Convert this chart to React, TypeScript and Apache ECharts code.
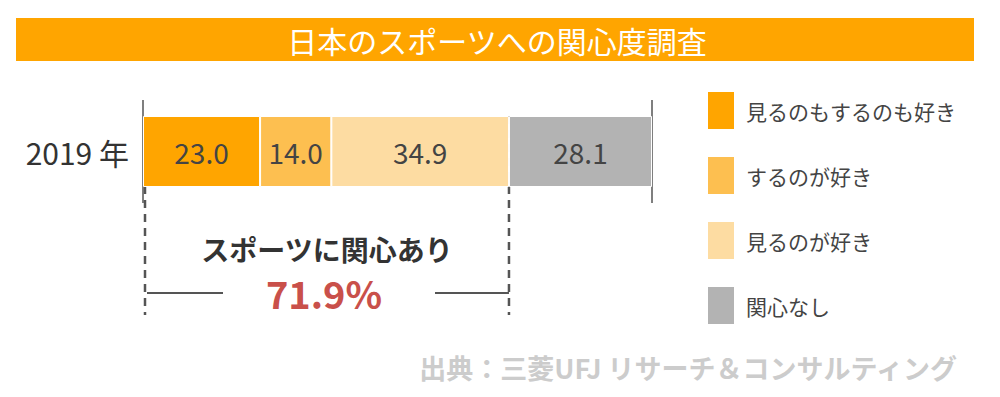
import React, { useEffect, useRef } from "react";
import * as echarts from "echarts";

const categories = ["2019 年"];
const seriesNames = ["見るのもするのも好き", "するのが好き", "見るのが好き", "関心なし"];
const seriesValues = [[23.0], [14.0], [34.9], [28.1]];
const seriesColors = ["#FFA500", "#FDBF50", "#FDDCA2", "#B3B3B3"];
const interestedShare = 71.9;
const titleText = "日本のスポーツへの関心度調査";
const bracketLabel = "スポーツに関心あり";
const sourceText = "出典：三菱UFJ リサーチ＆コンサルティング";

const FONT = "'Noto Sans CJK JP', 'Noto Sans', sans-serif";

export default function App() {
  const ref = useRef<HTMLDivElement>(null);
  useEffect(() => {
    if (!ref.current) return;
    const chart = echarts.init(ref.current, null, { renderer: "svg" });
    const option: any = {
      animation: false,
      backgroundColor: "#ffffff",
      textStyle: { fontFamily: FONT },
      grid: { left: 143, right: 348, top: 100, bottom: 194 },
      xAxis: {
        type: "value",
        min: 0,
        max: 100,
        interval: 100,
        axisLine: { show: false },
        axisTick: { show: false },
        axisLabel: { show: false },
        splitLine: { show: true, lineStyle: { color: "#555555", width: 1.5 } },
      },
      yAxis: {
        type: "category",
        data: categories,
        axisLine: { show: false },
        axisTick: { show: false },
        axisLabel: { fontSize: 30, color: "#333333", margin: 14, fontFamily: FONT },
      },
      legend: {
        orient: "vertical",
        left: 706,
        top: 90,
        padding: 0,
        itemWidth: 28,
        itemHeight: 39,
        itemGap: 24,
        icon: "rect",
        textStyle: { fontSize: 21, color: "#444444", fontFamily: FONT, padding: [0, 0, 0, 6] },
        data: seriesNames,
      },
      series: seriesNames.map((name, i) => ({
        name,
        type: "bar",
        stack: "total",
        barWidth: 71,
        data: seriesValues[i],
        itemStyle: { color: seriesColors[i], borderColor: "#ffffff", borderWidth: 1 },
        label: {
          show: true,
          position: "inside",
          fontSize: 28,
          color: "#444444",
          fontFamily: FONT,
          formatter: (p: any) => Number(p.value).toFixed(1),
        },
      })),
    };
    chart.setOption(option);

    const x0 = chart.convertToPixel({ gridIndex: 0 }, [0, 0])[0] + 2;
    const x1 = chart.convertToPixel({ gridIndex: 0 }, [interestedShare, 0])[0];
    const mid = (x0 + x1) / 2;
    const dash = { stroke: "#555555", lineWidth: 2.5, lineDash: [8, 6] };
    chart.setOption({
      graphic: [
        { type: "rect", shape: { x: 16, y: 18, width: 958, height: 43 }, style: { fill: "#FFA500" } },
        {
          type: "text",
          x: 497,
          y: 40,
          style: { text: titleText, fill: "#ffffff", fontSize: 30, fontFamily: FONT, align: "center", verticalAlign: "middle" },
        },
        { type: "line", shape: { x1: x0, y1: 116, x2: x0, y2: 315 }, style: dash },
        { type: "line", shape: { x1: x1, y1: 116, x2: x1, y2: 315 }, style: dash },
        { type: "line", shape: { x1: x0 + 2, y1: 293, x2: 223, y2: 293 }, style: { stroke: "#555555", lineWidth: 2 } },
        { type: "line", shape: { x1: 435, y1: 293, x2: x1, y2: 293 }, style: { stroke: "#555555", lineWidth: 2 } },
        {
          type: "text",
          x: mid,
          y: 249,
          style: { text: bracketLabel, fill: "#333333", fontSize: 28, fontWeight: "bold", fontFamily: FONT, align: "center", verticalAlign: "middle" },
        },
        {
          type: "text",
          x: mid - 3,
          y: 292,
          style: { text: interestedShare.toFixed(1) + "%", fill: "#C9504A", fontSize: 38, fontWeight: "bold", fontFamily: FONT, align: "center", verticalAlign: "middle" },
        },
        {
          type: "text",
          x: 957,
          y: 367,
          style: { text: sourceText, fill: "#CCCCCC", fontSize: 27, fontWeight: "bold", fontFamily: FONT, align: "right", verticalAlign: "middle" },
        },
      ],
    });
    return () => chart.dispose();
  }, []);
  return <div ref={ref} style={{ position: "fixed", left: 0, top: 0, width: 1000, height: 397 }} />;
}
